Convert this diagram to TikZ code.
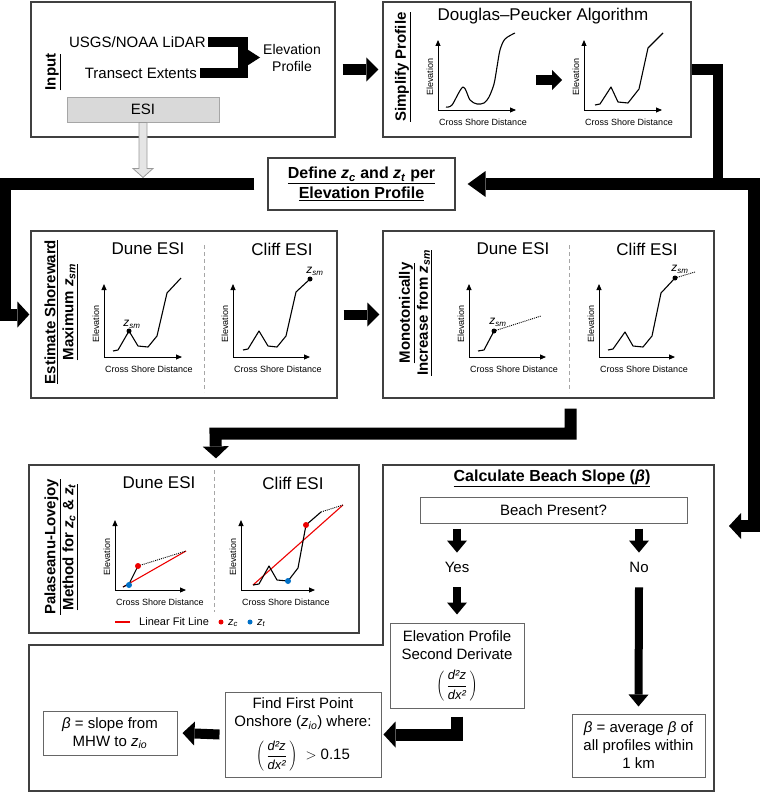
\documentclass[tikz,border=0pt]{standalone}
\usepackage{fontspec}
\setmainfont{Liberation Sans}
\usetikzlibrary{arrows.meta,calc}
\definecolor{eeqqqq}{rgb}{0.93,0,0}
\definecolor{qqwwcc}{rgb}{0,0.44,0.78}
\definecolor{sqsqsq}{rgb}{0.25,0.25,0.25}
\definecolor{dadada}{rgb}{0.85,0.85,0.85}
\newcommand{\zi}[1]{\textit{z}\textsubscript{\textit{#1}}}
\newcommand{\ddz}{$\displaystyle\left(\,\frac{\mbox{\fontsize{13}{13}\selectfont\itshape d²z}}{\mbox{\fontsize{13}{13}\selectfont\itshape dx²}}\,\right)$}
% axes of one small profile sketch: name, x, y, x length, y length
\newcommand{\plotaxes}[5]{%
  \draw[ax] (#2,#3) -- (#2,#3-#5);
  \draw[ax] (#2,#3) -- (#2+#4,#3);
  \node[lbl,rotate=90] (#1el) at (#2-8,#3-33) {Elevation};
  \node[lbl] (#1cs) at (#2+45,#3+12) {Cross Shore Distance};}

\begin{document}
\begin{tikzpicture}[x=1pt,y=-1pt,
  box/.style={draw=sqsqsq, line width=1.2pt, inner sep=0pt},
  sbox/.style={draw=sqsqsq!80, line width=1pt, inner sep=0pt, align=center, font=\fontsize{15}{18}\selectfont},
  esibox/.style={draw=gray!70, fill=dadada, line width=1pt, inner sep=0pt, font=\fontsize{15}{18}\selectfont},
  ttl/.style={font=\fontsize{15}{18}\selectfont\bfseries, align=center, inner sep=0pt},
  hd/.style={font=\fontsize{17}{20}\selectfont, inner sep=0pt},
  txt/.style={font=\fontsize{15}{18}\selectfont, align=center, inner sep=0pt},
  lbl/.style={font=\fontsize{9}{10}\selectfont, inner sep=0pt},
  lg/.style={font=\fontsize{11}{12}\selectfont, inner sep=0pt},
  zl/.style={font=\fontsize{12}{12}\selectfont, inner sep=0pt},
  ax/.style={line width=0.9pt, -{Triangle[length=6pt,width=5pt]}},
  prof/.style={line width=1.1pt, line join=round},
  dots/.style={line width=0.9pt, dash pattern=on 1pt off 1pt},
  sep/.style={gray!70, line width=0.8pt, dash pattern=on 4pt off 3pt},
  fitl/.style={eeqqqq, line width=1.1pt},
  blk/.style={line width=10pt, -{Triangle[length=12pt,width=24pt,line width=0pt]}},
  fat/.style={line width=12pt, line join=miter, -{Triangle[length=12pt,width=26pt,line width=0pt]}},
  bar/.style={line width=10pt, line join=miter},
  sml/.style={line width=8pt, -{Triangle[length=12pt,width=20pt,line width=0pt]}}]
\useasboundingbox (0,0) rectangle (760,792);

% input
\node[box, minimum width=304pt, minimum height=135pt] (input) at (183,69.5) {};
\node[ttl, rotate=90] (inputt) at (53,72) {\underline{Input}};
\node[txt, anchor=east] (lidar) at (206,42) {USGS/NOAA LiDAR};
\node[txt, anchor=east] (transect) at (197,73) {Transect Extents};
\node[txt, font=\fontsize{14}{17}\selectfont] (elev) at (292,57.5) {Elevation\\Profile};
\node[esibox, minimum width=152pt, minimum height=25pt] (esi) at (143,109.5) {ESI};
\coordinate (merge) at (243,57.5);
\draw[bar] ($(lidar.east)+(2,0)$) -| (merge) |- ($(transect.east)+(3,0)$);
\draw[line width=10pt, -{Triangle[length=14pt,width=18pt,line width=0pt]}] (merge) -- ($(elev.west)+(-3,0)$);
\draw[draw=gray!80, fill=gray!20, line width=0.8pt] ($(esi.south)+(-4,0)$) -- ++(8,0) -- ++(0,46) -- ++(6,0) -- ++(-10,9) -- ++(-10,-9) -- ++(6,0) -- cycle;

% simplify
\node[box, minimum width=308pt, minimum height=135pt] (simp) at (537,69.5) {};
\node[ttl, rotate=90] (simpt) at (403,67) {\underline{Simplify Profile}};
\node[hd] (dp) at (543,16) {Douglas–Peucker Algorithm};
\plotaxes{pa}{438}{110}{78}{70}
\draw[prof] plot[smooth] coordinates {(446,107) (452,105) (463,87) (470,100) (477,104) (484,103) (489,97) (494,84) (497,67) (500,50) (505,39) (515,33)};
\plotaxes{pb}{584}{110}{78}{70}
\draw[prof] (595,105) -- (600,104) -- (611,87) -- (618,102) -- (628,103) -- (639,89) -- (648,48) -- (663,33);
\coordinate (dpa) at (536,80);
\coordinate (dpb) at (562,80);
\draw[line width=10pt, -{Triangle[length=10pt,width=20pt,line width=0pt]}] (dpa) -- (dpb);

% define
\node[ttl, draw=sqsqsq, line width=1.2pt, font=\fontsize{16}{20}\selectfont\bfseries, minimum width=187pt, minimum height=52pt] (define) at (361.5,184) {\underline{Define \zi{c} and \zi{t} per}\\\underline{Elevation Profile}};

% estimate
\node[box, minimum width=306pt, minimum height=167pt] (estim) at (184,314.5) {};
\node[ttl, rotate=90] (estimt) at (61,312) {\underline{Estimate Shoreward}\\\underline{Maximum \zi{sm}}};
\node[hd] (ed) at (148,249) {Dune ESI};
\node[hd] (ec) at (282,249) {Cliff ESI};
\draw[sep] (204,245) -- (204,392);
\plotaxes{pc}{104}{357}{78}{73}
\draw[prof] (113,351) -- (118,350) -- (129,331) -- (138,346) -- (148,347) -- (157,336) -- (167,293) -- (181,278);
\fill (129,331) circle[radius=2.5pt];
\node[zl] (zsma) at (132,324) {\zi{sm}};
\plotaxes{pd}{233}{357}{77}{73}
\draw[prof] (243,350) -- (248,349) -- (259,331) -- (268,346) -- (277,347) -- (286,336) -- (296,292) -- (310,279);
\fill (310,279) circle[radius=2.5pt];
\node[zl] (zsmb) at (315,271) {\zi{sm}};

% monotonic
\node[box, minimum width=331pt, minimum height=167pt] (mono) at (548.5,314.5) {};
\node[ttl, rotate=90] (monot) at (415.5,313) {\underline{Monotonically}\\\underline{Increase from \zi{sm}}};
\node[hd] (md) at (513,249) {Dune ESI};
\node[hd] (mc) at (647,249) {Cliff ESI};
\draw[sep] (569,245) -- (569,392);
\plotaxes{pe}{469}{357}{77}{73}
\draw[prof] (478,351) -- (484,350) -- (494,331);
\draw[dots] (494,331) -- (541,316);
\fill (494,331) circle[radius=2.5pt];
\node[zl] (zsmc) at (498,322) {\zi{sm}};
\plotaxes{pf}{599}{357}{76}{73}
\draw[prof] (608,350) -- (613,349) -- (625,332) -- (633,346) -- (643,347) -- (652,336) -- (661,293) -- (675,278);
\draw[dots] (675,278) -- (695,272);
\fill (675,278) circle[radius=2.5pt];
\node[zl] (zsmd) at (680,269) {\zi{sm}};

% palaseanu-lovejoy
\node[box, minimum width=330pt, minimum height=168pt] (pala) at (194,549) {};
\node[ttl, rotate=90] (palat) at (61,547) {\underline{Palaseanu-Lovejoy}\\\underline{Method for \zi{c} \& \zi{t}}};
\node[hd] (pd) at (159,483) {Dune ESI};
\node[hd] (pc) at (293,483) {Cliff ESI};
\draw[sep] (214,470) -- (214,612);
\plotaxes{pg}{115}{590}{71}{70}
\draw[fitl] (123,587) -- (186,551);
\draw[prof] (123,587) -- (129,584) -- (138,566);
\draw[dots] (138,566) -- (186,551);
\fill[eeqqqq] (138,566) circle[radius=3pt];
\fill[qqwwcc] (129,585) circle[radius=3pt];
\plotaxes{ph}{241}{590}{74}{70}
\draw[fitl] (253,585) -- (343,505);
\draw[prof] (253,585) -- (259,584) -- (269,566) -- (277,580) -- (288,581) -- (298,568) -- (306,525) -- (321,512);
\draw[dots] (321,512) -- (343,505);
\fill[eeqqqq] (306,525) circle[radius=3pt];
\fill[qqwwcc] (288,581) circle[radius=3pt];
\draw[fitl] (115,622) -- (130,622);
\node[lg, anchor=west] (lgfit) at (139,622) {Linear Fit Line};
\fill[eeqqqq] (221,622) circle[radius=2.5pt];
\node[lg, anchor=west] (lgzc) at (228,623) {\zi{c}};
\fill[qqwwcc] (250,622) circle[radius=2.5pt];
\node[lg, anchor=west] (lgzt) at (257,623) {\zi{t}};

% beach slope
\draw[draw=sqsqsq, line width=1.2pt] (383,465) -- (714,465) -- (714,791) -- (29,791) -- (29,645) -- (383,645) -- cycle;
\node[ttl, font=\fontsize{16}{18}\selectfont\bfseries] (calct) at (552,478) {\underline{Calculate Beach Slope (\textit{β})}};
\node[sbox, minimum width=267pt, minimum height=26pt] (beach) at (553.5,510) {Beach Present?};
\node[txt] (yes) at (457,567) {Yes};
\node[txt] (no) at (639,567) {No};
\node[sbox, minimum width=134pt, minimum height=85pt] (deriv) at (457,665.5) {Elevation Profile\\Second Derivate\\[10pt]\ddz};
\node[sbox, minimum width=133pt, minimum height=63pt] (avg) at (638.5,745.5) {\textit{β} = average \textit{β} of\\all profiles within\\1 km};
\node[sbox, minimum width=156pt, minimum height=85pt] (first) at (303,734.5) {Find First Point\\Onshore (\zi{io}) where:\\[10pt]\ddz~~$>$~0.15};
\node[sbox, minimum width=134pt, minimum height=44pt] (slope) at (110,733) {\textit{β} = slope from\\MHW to \zi{io}};

% connectors
\draw[blk] ($(input.east)+(7,0)$) -- ($(simp.west)+(-4,0)$);
\coordinate (split) at (718,184);
\coordinate (calcin) at (729,526);
\draw[bar] (simp.east) -| (split);
\draw[fat, -{Triangle[length=18pt,width=26pt,line width=0pt]}] (split) -- ($(define.east)+(12,0)$);
\draw[fat] (split) -- ++(36,0) |- (calcin);
\draw[fat] ($(define.west)+(-13,0)$) -- ++(-249,0) |- ($(estim.west)+(-1,0)$);
\draw[blk] ($(estim.east)+(6,0)$) -- ($(mono.west)+(-3,0)$);
\draw[fat] ($(mono.south)+(22,10)$) |- ++(-355,25) -- ($(pala.north)+(22,-6)$);
\draw[sml] ($(beach.south -| yes)+(0,5)$) -- ($(yes.north)+(0,-9)$);
\draw[sml] ($(beach.south -| no)+(0,5)$) -- ($(no.north)+(0,-9)$);
\draw[sml] ($(yes.south)+(0,15)$) -- ($(deriv.north)+(0,-8)$);
\draw[sml] ($(no.south)+(0,15)$) -- ($(avg.north)+(0,-7)$);
\draw[fat] ($(deriv.south)+(0,8)$) |- ($(first.east)+(2,0)$);
\draw[blk] ($(first.west)+(-5,0)$) -- ($(slope.east)+(5,0)$);
\end{tikzpicture}
\end{document}
